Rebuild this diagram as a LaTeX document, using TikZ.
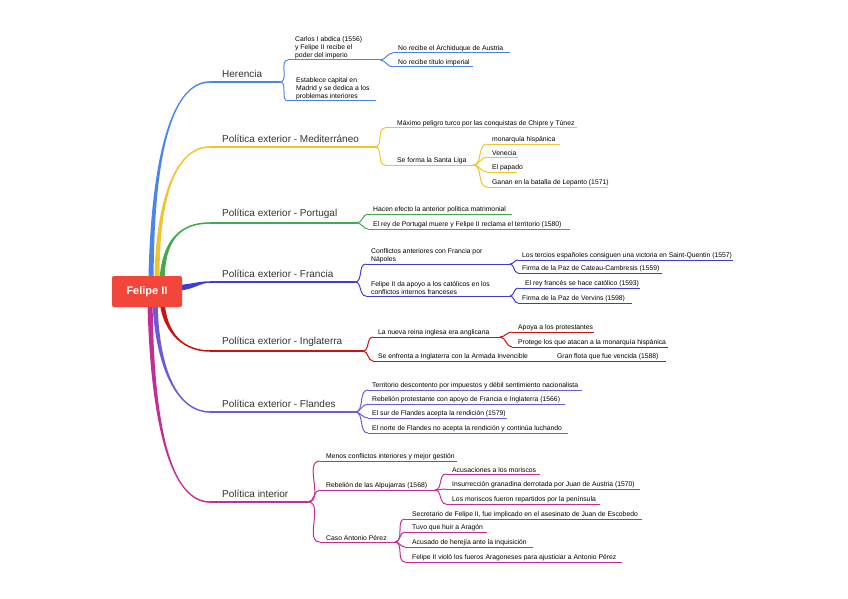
\documentclass[tikz,border=0pt]{standalone}
\usepackage{fontspec}
\setmainfont{Liberation Sans}
\usetikzlibrary{calc}
\definecolor{cH}{HTML}{4A86E8}
\definecolor{cM}{HTML}{F1C232}
\definecolor{cP}{HTML}{43A94E}
\definecolor{cF}{HTML}{3D3DD6}
\definecolor{cI}{HTML}{CC1111}
\definecolor{cL}{HTML}{6B5BDB}
\definecolor{cN}{HTML}{C52D96}
\definecolor{rootred}{HTML}{F2463A}
\definecolor{lbltext}{HTML}{333333}
\newcommand\mmlabel[5]{%
  \coordinate (#1s) at (210,#3);
  \coordinate (#1e) at (#4,#3);
  \node[lvlone] (#1t) at (222,#3-4) {#5};
  \draw[#2, l1line] (#1s) -- (#1e);}
\newcommand\mmitem[7]{%
  \coordinate (#1s) at (#4,#3);
  \coordinate (#1e) at (#5,#3);
  \node[leaf] (#1t) at (#6,#3-1.2) {#7};
  \draw[#2, l2line] (#1s) -- (#1e);}
\newcommand\mmconn[3]{\draw[#1, l2line] (#2) to[out=0,in=180] (#3);}
\newcommand\brup[5]{%
  \fill[#1] ($(#2)+(-2.6,0)$) .. controls ($(#3)+(-1.6,0)$) and ($(#4)+(0,-0.9)$) .. ($(#5)+(0,-0.75)$)
   -- ($(#5)+(0,0.75)$) .. controls ($(#4)+(0,0.9)$) and ($(#3)+(1.6,0)$) .. ($(#2)+(2.6,0)$) -- cycle;}
\newcommand\brdown[5]{%
  \fill[#1] ($(#2)+(-2.6,0)$) .. controls ($(#3)+(-1.6,0)$) and ($(#4)+(0,0.9)$) .. ($(#5)+(0,0.75)$)
   -- ($(#5)+(0,-0.75)$) .. controls ($(#4)+(0,-0.9)$) and ($(#3)+(1.6,0)$) .. ($(#2)+(2.6,0)$) -- cycle;}
\begin{document}
\begin{tikzpicture}[x=1pt,y=-1pt,
  lvlone/.style={font=\fontsize{10}{12}\selectfont, text=lbltext, anchor=south west, inner sep=0pt},
  leaf/.style={font=\fontsize{6.8}{7.8}\selectfont, text=black, anchor=south west, inner sep=0pt, align=left},
  l1line/.style={line width=1.5pt},
  l2line/.style={line width=1pt},
  rootbox/.style={fill=rootred, text=white, font=\bfseries\fontsize{11}{13}\selectfont, minimum width=70pt, minimum height=31pt, rounded corners=2pt, inner sep=0pt}]
\useasboundingbox (0,0) rectangle (848,599);
\fill[white] (0,0) rectangle (848,599);

% ---- main branches ----
\coordinate (rH) at (151,282);
\coordinate (rM) at (157,282);
\coordinate (rP) at (162,282);
\coordinate (rF) at (178,288);
\coordinate (rI) at (162,301);
\coordinate (rL) at (155,301);
\coordinate (rN) at (150,301);

\mmlabel{H}{cH}{82}{280}{Herencia}
\mmlabel{M}{cM}{147}{375}{Política exterior - Mediterráneo}
\mmlabel{P}{cP}{223}{357}{Política exterior - Portugal}
\mmlabel{F}{cF}{282}{355}{Política exterior - Francia}
\mmlabel{I}{cI}{351}{363}{Política exterior - Inglaterra}
\mmlabel{L}{cL}{412}{355}{Política exterior - Flandes}
\mmlabel{N}{cN}{502}{308}{Política interior}

\brup{cH}{rH}{152,170}{168,82}{Hs}
\brup{cM}{rM}{157,200}{175,147}{Ms}
\brup{cP}{rP}{163,240}{180,223}{Ps}
\fill[cF] ($(rF)+(0,-2.8)$) .. controls (194,283.5) and (200,281.2) .. ($(Fs)+(0,-0.75)$)
   -- ($(Fs)+(0,0.75)$) .. controls (200,282.8) and (194,289.5) .. ($(rF)+(0,2.8)$) -- cycle;
\brdown{cI}{rI}{165,335}{185,351}{Is}
\brdown{cL}{rL}{157,370}{178,412}{Ls}
\brdown{cN}{rN}{152,430}{172,502}{Ns}

\node[rootbox] (root) at (147,291.5) {Felipe II};

% ---- Herencia ----
\mmitem{Ha}{cH}{60}{288}{380}{295}{Carlos I abdica (1556)\\y Felipe II recibe el\\poder del imperio}
\mmitem{Haa}{cH}{53}{393}{510}{398}{No recibe el Archiduque de Austria}
\mmitem{Hab}{cH}{67}{393}{473}{398}{No recibe título imperial}
\mmitem{Hb}{cH}{101}{288}{376}{296}{Establece capital en\\Madrid y se dedica a los\\problemas interiores}
\mmconn{cH}{He}{Has}
\mmconn{cH}{He}{Hbs}
\mmconn{cH}{Hae}{Haas}
\mmconn{cH}{Hae}{Habs}

% ---- Mediterraneo ----
\mmitem{Ma}{cM}{128}{385}{577}{397}{Máximo peligro turco por las conquistas de Chipre y Túnez}
\mmitem{Mb}{cM}{165}{385}{473}{397}{Se forma la Santa Liga}
\mmitem{Mba}{cM}{144}{487}{560}{492}{monarquía hispánica}
\mmitem{Mbb}{cM}{157}{487}{518}{492}{Venecia}
\mmitem{Mbc}{cM}{172}{487}{517}{492}{El papado}
\mmitem{Mbd}{cM}{187}{487}{608}{492}{Ganan en la batalla de Lepanto (1571)}
\mmconn{cM}{Me}{Mas}
\mmconn{cM}{Me}{Mbs}
\mmconn{cM}{Mbe}{Mbas}
\mmconn{cM}{Mbe}{Mbbs}
\mmconn{cM}{Mbe}{Mbcs}
\mmconn{cM}{Mbe}{Mbds}

% ---- Portugal ----
\mmitem{Pa}{cP}{214}{368}{512}{373}{Hacen efecto la anterior política matrimonial}
\mmitem{Pb}{cP}{229}{368}{570}{373}{El rey de Portugal muere y Felipe II reclama el territorio (1580)}
\mmconn{cP}{Pe}{Pas}
\mmconn{cP}{Pe}{Pbs}

% ---- Francia ----
\mmitem{Fa}{cF}{264}{366}{510}{371}{Conflictos anteriores con Francia por\\Nápoles}
\mmitem{Faa}{cF}{260}{518}{733}{522}{Los tercios españoles consiguen una victoria en Saint-Quentin (1557)}
\mmitem{Fab}{cF}{273}{518}{662}{522}{Firma de la Paz de Cateau-Cambresis (1559)}
\mmitem{Fb}{cF}{296}{366}{510}{371}{Felipe II da apoyo a los católicos en los\\conflictos internos franceses}
\mmitem{Fba}{cF}{288}{518}{640}{525}{El rey francés se hace católico (1593)}
\mmitem{Fbb}{cF}{303}{518}{632}{522}{Firma de la Paz de Vervins (1598)}
\mmconn{cF}{Fe}{Fas}
\mmconn{cF}{Fe}{Fbs}
\mmconn{cF}{Fae}{Faas}
\mmconn{cF}{Fae}{Fabs}
\mmconn{cF}{Fbe}{Fbas}
\mmconn{cF}{Fbe}{Fbbs}

% ---- Inglaterra ----
\mmitem{Ia}{cI}{337}{373}{500}{378}{La nueva reina inglesa era anglicana}
\mmitem{Iaa}{cI}{332}{512}{594}{518}{Apoya a los protestantes}
\mmitem{Iab}{cI}{347}{512}{668}{518}{Protege los que atacan a la monarquía hispánica}
\mmitem{Ib}{cI}{361}{373}{546}{378}{Se enfrenta a Inglaterra con la Armada Invencible}
\mmitem{Iba}{cI}{361}{550}{666}{557}{Gran flota que fue vencida (1588)}
\mmconn{cI}{Ie}{Ias}
\mmconn{cI}{Ie}{Ibs}
\mmconn{cI}{Iae}{Iaas}
\mmconn{cI}{Iae}{Iabs}
\draw[cI, l2line] (Ibe) -- (Ibas);

% ---- Flandes ----
\mmitem{La}{cL}{390}{368}{582}{372}{Territorio descontento por impuestos y débil sentimiento nacionalista}
\mmitem{Lb}{cL}{404}{368}{565}{372}{Rebelión protestante con apoyo de Francia e Inglaterra (1566)}
\mmitem{Lc}{cL}{418}{368}{507}{372}{El sur de Flandes acepta la rendición (1579)}
\mmitem{Ld}{cL}{433}{368}{568}{372}{El norte de Flandes no acepta la rendición y continúa luchando}
\mmconn{cL}{Le}{Las}
\mmconn{cL}{Le}{Lbs}
\mmconn{cL}{Le}{Lcs}
\mmconn{cL}{Le}{Lds}

% ---- Interior ----
\mmitem{Na}{cN}{461}{320}{457}{326}{Menos conflictos interiores y mejor gestión}
\mmitem{Nb}{cN}{490}{320}{435}{326}{Rebelión de las Alpujarras (1568)}
\mmitem{Nba}{cN}{474}{446}{540}{452}{Acusaciones a los moriscos}
\mmitem{Nbb}{cN}{489}{446}{640}{452}{Insurrección granadina derrotada por Juan de Austria (1570)}
\mmitem{Nbc}{cN}{504}{446}{600}{452}{Los moriscos fueron repartidos por la península}
\mmitem{Nc}{cN}{542}{320}{395}{326}{Caso Antonio Pérez}
\mmitem{Nca}{cN}{519}{405}{642}{412}{Secretario de Felipe II, fue implicado en el asesinato de Juan de Escobedo}
\mmitem{Ncb}{cN}{532}{405}{487}{412}{Tuvo que huir a Aragón}
\mmitem{Ncc}{cN}{547}{405}{533}{412}{Acusado de herejía ante la inquisición}
\mmitem{Ncd}{cN}{562}{405}{622}{412}{Felipe II violó los fueros Aragoneses para ajusticiar a Antonio Pérez}
\mmconn{cN}{Ne}{Nas}
\mmconn{cN}{Ne}{Nbs}
\mmconn{cN}{Ne}{Ncs}
\mmconn{cN}{Nbe}{Nbas}
\mmconn{cN}{Nbe}{Nbbs}
\mmconn{cN}{Nbe}{Nbcs}
\mmconn{cN}{Nce}{Ncas}
\mmconn{cN}{Nce}{Ncbs}
\mmconn{cN}{Nce}{Nccs}
\mmconn{cN}{Nce}{Ncds}
\end{tikzpicture}
\end{document}
